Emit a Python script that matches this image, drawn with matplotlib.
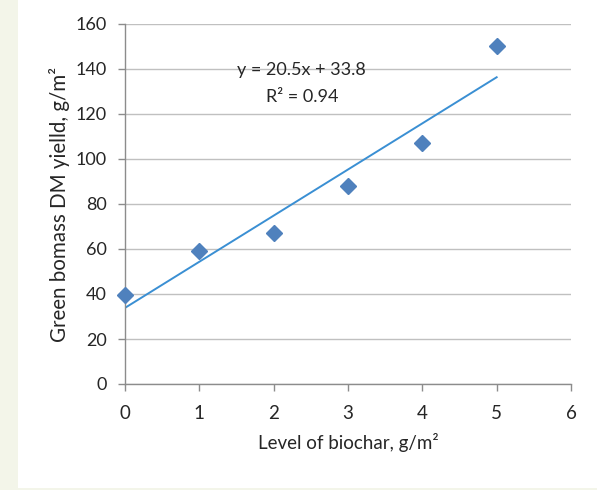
import matplotlib
matplotlib.use("Agg")
import matplotlib.pyplot as plt
import numpy as np
from matplotlib.patches import Rectangle

plt.rcParams['font.family'] = ['Lato', 'DejaVu Sans']

biochar = [0, 1, 2, 3, 4, 5]
yield_dm = [39.5, 59, 67, 88, 107, 150]
x_ticks = [0, 1, 2, 3, 4, 5, 6]
y_ticks = [0, 20, 40, 60, 80, 100, 120, 140, 160]
eq_text = "y = 20.5x + 33.8"
r2_text = "R² = 0.94"

TXT = '#262626'

fig = plt.figure(figsize=(5.97, 4.90), dpi=100)
fig.patch.set_facecolor('#F3F5E9')
bg = Rectangle((18/597, 2/490), 1 - 18/597, 1 - 2/490,
               transform=fig.transFigure, facecolor='white',
               edgecolor='none', zorder=-10)
fig.add_artist(bg)

ax = fig.add_axes([125/597, 1 - 384/490, 446/597, 360/490])
ax.set_zorder(5)
ax.set_facecolor('none')

ax.set_xlim(0, 6)
ax.set_ylim(0, 160)
ax.set_xticks(x_ticks)
ax.set_yticks(y_ticks)

ax.yaxis.grid(True, color='#C0C0C0', linewidth=1.0)
ax.set_axisbelow(True)
for s in ['top', 'right']:
    ax.spines[s].set_visible(False)
for s in ['left', 'bottom']:
    ax.spines[s].set_color('#8C8C8C')
    ax.spines[s].set_linewidth(1.0)

ax.tick_params(axis='both', direction='out', length=5, width=1.0,
               color='#8C8C8C', labelsize=13.5, labelcolor=TXT)
ax.tick_params(axis='y', pad=8, labelsize=13)
ax.tick_params(axis='x', pad=10)

x = np.array(biochar, dtype=float)
y = np.array(yield_dm, dtype=float)
slope, intercept = np.polyfit(x, y, 1)
xl = np.array([x.min(), x.max()])
ax.plot(xl, slope * xl + intercept, color='#3A8FD3', linewidth=1.4, zorder=2)

ax.plot(biochar, yield_dm, linestyle='none', marker='D', markersize=8,
        color='#4F81BD', zorder=3, clip_on=False)

ax.text(2.37, 139.5, eq_text, ha='center', va='center', fontsize=13, color=TXT)
ax.text(2.39, 127.5, r2_text, ha='center', va='center', fontsize=13, color=TXT)

ax.set_xlabel("Level of biochar, g/m²", fontsize=13.5, color=TXT, labelpad=8)
ax.set_ylabel("Green bomass DM yielld, g/m²", fontsize=14.8, color=TXT, labelpad=4)

fig.savefig("out.png", dpi=100, facecolor=fig.get_facecolor())
